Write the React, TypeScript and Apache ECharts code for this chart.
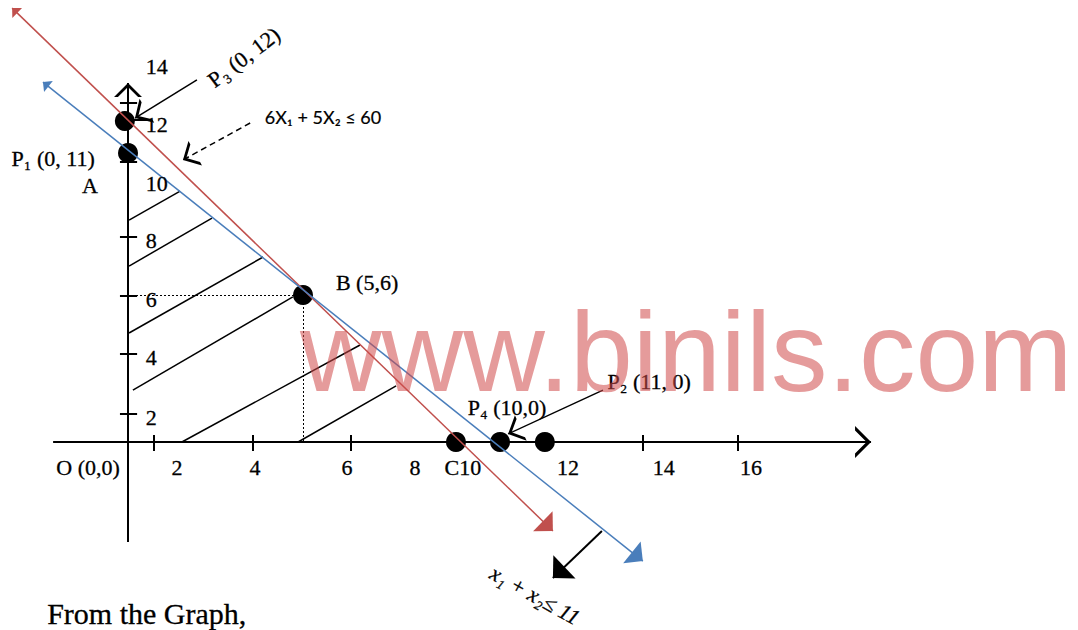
import React, { useEffect, useRef } from "react";
import * as echarts from "echarts";

// ---------- data (diagram units: x1 horizontally, x2 vertically) ----------
const pointNames = ["P3", "P1", "B", "C", "P4", "P2"];
const pointX = [-0.09, 0, 5, 9.37, 10.63, 11.91];
const pointY = [13.1, 11.8, 6, 0, 0, 0];

// constraint lines (arrow tip to arrow tip)
const redLineX = [-3.31, 12.14]; // 6X1 + 5X2 <= 60
const redLineY = [17.71, -3.63];
const blueLineX = [-2.43, 14.71]; // x1 + x2 <= 11
const blueLineY = [14.69, -4.86];

// drawn axes
const xAxisFrom = -2.14;
const xAxisTo = 21.23;
const yAxisFrom = -4.08;
const yAxisTo = 14.65;

// tick marks and tick labels
const xTickPos = [0.74, 3.57, 6.37, 14.71, 17.43];
const yTickPos = [1.14, 3.59, 5.96, 8.37, 11.43, 13.84];
const yHalfTickPos = [13.14];
const xTickLabels = ["2", "4", "6", "8", "C10", "12", "14", "16"];
const xTickLabelPos = [1.4, 3.63, 6.26, 8.2, 9.57, 12.57, 15.31, 17.8];
const yTickLabels = ["2", "4", "6", "8", "10", "12", "14"];
const yTickLabelPos = [1.02, 3.43, 5.8, 8.24, 10.57, 12.94, 15.31];

// hatching of the feasible region
const hatchStartX = [0.03, 0.03, 0.03, 0.14, 1.54, 4.86];
const hatchStartY = [9.06, 7.18, 4.45, 2.12, 0, 0];
const hatchEndX = [1.49, 2.4, 3.86, 4.71, 6.63, 7.66];
const hatchEndY = [10.24, 9.14, 7.55, 5.92, 3.96, 2.29];

// pointer arrows [fromX, fromY, tipX, tipY]
const openPointers = [
  [1.97, 14.78, 0.2, 13.22],
  [13.57, 2.12, 10.86, 0.33],
];
const dashedPointer = [3.49, 13.02, 1.57, 11.51];
const filledPointer = [13.54, -3.63, 12.14, -5.55];

// annotation texts
const noteTexts = ["P₁ (0, 11)", "A", "P₃ (0, 12)", "B (5,6)", "P₄ (10,0)", "P₂ (11, 0)", "O (0,0)"];
const noteX = [-2.14, -1.09, 3.31, 6.83, 10.83, 14.89, -1.14];
const noteY = [11.59, 10.45, 15.71, 6.53, 1.39, 2.45, -1.06];
const noteRotate = [0, 0, 37, 0, 0, 0, 0];
const constraintRedText = "6X₁ + 5X₂ ≤ 60";
const constraintRedPos = [5.57, 13.27];
const constraintBlueText = "x₁ + x₂≤ 11";
const constraintBluePos = [11.63, -6.25];

// ---------- layout ----------
const W = 1078;
const H = 630;
const ORIGIN_PX = [128, 442];
const PX_PER_X = 35;
const PX_PER_Y = 24.5;

const SERIF = '"Liberation Serif", "Times New Roman", serif';
const RED = "#C0504D";
const BLUE = "#4A7EBB";

const CHEVRON = "path://M0,-10L0,-10M0,10L5,0L10,10L8.6,10L5,2.8L1.4,10Z";
const TRI = "path://M0,-10L0,-10M5,0L10,10L0,10Z";

export default function App() {
  const ref = useRef<HTMLDivElement>(null);

  useEffect(() => {
    if (!ref.current) return;
    const chart = echarts.init(ref.current, undefined, { renderer: "svg" });

    const seg = (x1: number, y1: number, x2: number, y2: number) => ({
      coords: [
        [x1, y1],
        [x2, y2],
      ],
    });

    const hatch = hatchStartX.map((_, i) =>
      seg(hatchStartX[i], hatchStartY[i], hatchEndX[i], hatchEndY[i])
    );
    const ticks = [
      ...xTickPos.map((x) => seg(x, -0.37, x, 0.29)),
      ...yTickPos.map((y) => seg(-0.23, y, 0.26, y)),
      ...yHalfTickPos.map((y) => seg(0, y, 0.63, y)),
    ];

    const baseLines = {
      type: "lines",
      coordinateSystem: "cartesian2d",
      silent: true,
    };

    const textStyle = {
      show: true,
      position: "inside",
      formatter: "{b}",
      color: "#000",
      fontFamily: SERIF,
      fontSize: 22,
      textBorderColor: "#000",
      textBorderWidth: 0.3,
    };

    const option: any = {
      animation: false,
      backgroundColor: "#ffffff",
      grid: { left: 0, right: 0, top: 0, bottom: 0, containLabel: false },
      xAxis: {
        type: "value",
        show: false,
        min: -ORIGIN_PX[0] / PX_PER_X,
        max: (W - ORIGIN_PX[0]) / PX_PER_X,
      },
      yAxis: {
        type: "value",
        show: false,
        min: -(H - ORIGIN_PX[1]) / PX_PER_Y,
        max: ORIGIN_PX[1] / PX_PER_Y,
      },
      graphic: [
        {
          type: "text",
          z: 100,
          left: 300,
          top: 295,
          silent: true,
          style: {
            text: "www.binils.com",
            font: '113px "Liberation Sans", Arial, sans-serif',
            fill: "rgba(208,72,72,0.55)",
          },
        },
        {
          type: "text",
          left: 47,
          top: 598,
          style: {
            text: "From the Graph,",
            font: "30px " + SERIF,
            fill: "#000",
            stroke: "#000",
            lineWidth: 0.3,
          },
        },
      ],
      series: [
        {
          ...baseLines,
          name: "hatch",
          z: 2,
          lineStyle: { color: "#000", width: 1.5, opacity: 1 },
          data: hatch,
        },
        {
          ...baseLines,
          name: "guides",
          z: 2,
          lineStyle: { color: "#000", width: 1, type: [2, 2], opacity: 1 },
          data: [seg(0, pointY[2], pointX[2], pointY[2]), seg(pointX[2], pointY[2], pointX[2], 0)],
        },
        {
          ...baseLines,
          name: "ticks",
          z: 2,
          lineStyle: { color: "#000", width: 2, opacity: 1 },
          data: ticks,
        },
        {
          ...baseLines,
          name: "xaxis",
          z: 2,
          symbol: ["none", CHEVRON],
          symbolSize: [16, 32],
          lineStyle: { color: "#000", width: 2, opacity: 1 },
          data: [seg(xAxisFrom, 0, xAxisTo, 0)],
        },
        {
          ...baseLines,
          name: "yaxis",
          z: 2,
          symbol: ["none", CHEVRON],
          symbolSize: [18, 28],
          lineStyle: { color: "#000", width: 2, opacity: 1 },
          data: [seg(0, yAxisFrom, 0, yAxisTo)],
        },
        {
          type: "scatter",
          name: "points",
          z: 3,
          silent: true,
          symbolSize: 20,
          itemStyle: { color: "#000", opacity: 1 },
          data: pointNames.map((n, i) => ({ name: n, value: [pointX[i], pointY[i]] })),
        },
        {
          ...baseLines,
          name: "6X1 + 5X2 <= 60",
          z: 4,
          symbol: [TRI, TRI],
          symbolSize: [14, 28],
          lineStyle: { color: RED, width: 1.5, opacity: 1 },
          data: [seg(redLineX[0], redLineY[0], redLineX[1], redLineY[1])],
        },
        {
          ...baseLines,
          name: "x1 + x2 <= 11",
          z: 4,
          symbol: [TRI, TRI],
          symbolSize: [14, 28],
          lineStyle: { color: BLUE, width: 1.5, opacity: 1 },
          data: [seg(blueLineX[0], blueLineY[0], blueLineX[1], blueLineY[1])],
        },
        {
          ...baseLines,
          name: "pointers",
          z: 4,
          symbol: ["none", CHEVRON],
          symbolSize: [18, 28],
          lineStyle: { color: "#000", width: 1.5, opacity: 1 },
          data: openPointers.map((p) => seg(p[0], p[1], p[2], p[3])),
        },
        {
          ...baseLines,
          name: "dashedPointer",
          z: 4,
          symbol: ["none", CHEVRON],
          symbolSize: [18, 28],
          lineStyle: { color: "#000", width: 1.5, type: [6, 4], opacity: 1 },
          data: [seg(dashedPointer[0], dashedPointer[1], dashedPointer[2], dashedPointer[3])],
        },
        {
          ...baseLines,
          name: "filledPointer",
          z: 4,
          symbol: ["none", TRI],
          symbolSize: [16, 32],
          lineStyle: { color: "#000", width: 2, opacity: 1 },
          data: [seg(filledPointer[0], filledPointer[1], filledPointer[2], filledPointer[3])],
        },
        {
          type: "scatter",
          name: "xTickLabels",
          z: 5,
          silent: true,
          symbolSize: 0,
          itemStyle: { color: "#000", opacity: 1 },
          label: textStyle,
          data: xTickLabels.map((t, i) => ({ name: t, value: [xTickLabelPos[i], -1.06] })),
        },
        {
          type: "scatter",
          name: "yTickLabels",
          z: 5,
          silent: true,
          symbolSize: 0,
          itemStyle: { color: "#000", opacity: 1 },
          label: { ...textStyle, align: "left" },
          data: yTickLabels.map((t, i) => ({ name: t, value: [0.51, yTickLabelPos[i]] })),
        },
        {
          type: "scatter",
          name: "notes",
          z: 5,
          silent: true,
          symbolSize: 0,
          itemStyle: { color: "#000", opacity: 1 },
          label: textStyle,
          data: [
            ...noteTexts.map((t, i) => ({
              name: t,
              value: [noteX[i], noteY[i]],
              label: { rotate: noteRotate[i] },
            })),
            {
              name: constraintRedText,
              value: constraintRedPos,
              label: {
                fontFamily: 'Lato, "Open Sans", sans-serif',
                fontSize: 18,
                textBorderWidth: 0.2,
              },
            },
            {
              name: constraintBlueText,
              value: constraintBluePos,
              label: { rotate: -29, fontStyle: "italic" },
            },
          ],
        },
      ],
    };

    chart.setOption(option);
    return () => chart.dispose();
  }, []);

  return (
    <div
      ref={ref}
      style={{ position: "absolute", left: 0, top: 0, width: W, height: H, background: "#fff" }}
    />
  );
}
